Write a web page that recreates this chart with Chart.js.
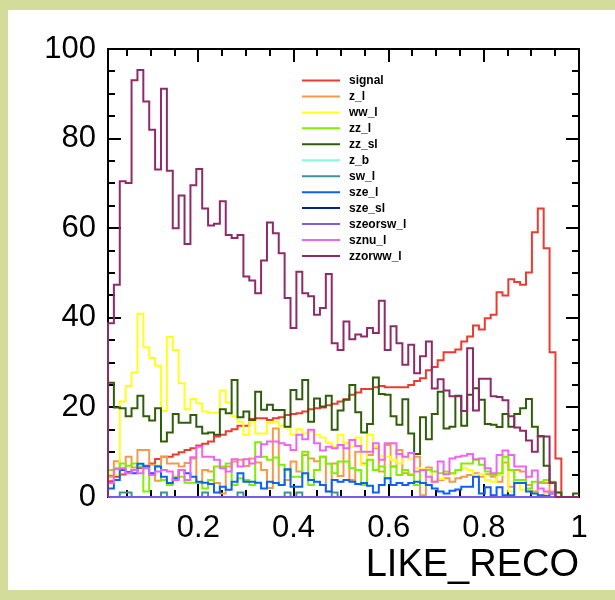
<!DOCTYPE html>
<html>
<head>
<meta charset="utf-8">
<script src="https://cdn.jsdelivr.net/npm/chart.js@4.4.1/dist/chart.umd.min.js"></script>
<style>
  html, body { margin: 0; padding: 0; background: #d3dc9a; overflow: hidden; }
  #pad { position: absolute; left: 8px; top: 10px; width: 607px; height: 580px; background: #fff; }
  #chart { position: absolute; left: 0; top: 0; }
</style>
</head>
<body>
<div id="pad"></div>
<canvas id="chart" width="615" height="600"></canvas>
<script>
// histogram binning of LIKE_RECO
const X_MIN = 0.01;
const X_MAX = 1.0;
const N_BINS = 80;
const xTickLabels = [0.2, 0.4, 0.6, 0.8, 1];
const yTickLabels = [0, 20, 40, 60, 80, 100];
const xTitle = "LIKE_RECO";

const seriesNames = ["signal", "z_l", "ww_l", "zz_l", "zz_sl", "z_b", "sw_l", "sze_l", "sze_sl", "szeorsw_l", "sznu_l", "zzorww_l"];

const signal = [
  3.5, 4.5, 5.0, 5.5, 6.0, 6.5, 7.0, 7.5, 8.5, 9.0,
  9.0, 9.5, 10.0, 10.5, 10.9, 11.5, 11.9, 12.4, 13.5, 13.9,
  14.7, 15.1, 15.9, 15.9, 17.4, 17.6, 17.6, 17.2, 17.6, 17.8,
  18.3, 18.5, 18.7, 19.1, 19.6, 19.8, 20.0, 20.5, 20.8, 21.3,
  21.8, 22.8, 23.3, 24.1, 24.1, 24.5, 24.8, 24.5, 24.5, 24.5,
  24.5, 25.0, 25.9, 26.5, 28.3, 29.0, 30.5, 32.3, 32.3, 32.9,
  34.7, 35.8, 38.3, 37.4, 39.9, 40.7, 45.7, 45.0, 48.6, 48.0,
  47.4, 50.1, 59.1, 64.4, 55.5, 32.3, 8.6, 0, 0, 0
];
const z_l = [
  4.5, 8.0, 6.2, 9.0, 6.6, 10.5, 10.5, 7.2, 3.6, 9.0,
  7.5, 7.5, 6.8, 7.6, 8.6, 3.2, 6.0, 5.7, 3.1, 0.8,
  6.8, 7.9, 8.3, 6.9, 8.6, 7.7, 6.0, 2.0, 15.3, 2.7,
  3.8, 7.9, 5.7, 9.4, 8.6, 8.0, 9.0, 1.2, 7.5, 4.7,
  12.0, 3.8, 10.1, 7.5, 9.4, 10.9, 5.7, 11.6, 6.8, 10.5,
  5.3, 4.9, 9.0, 0.4, 6.6, 3.4, 3.8, 4.2, 3.4, 4.2,
  4.5, 4.9, 5.3, 4.5, 5.1, 4.5, 3.4, 7.7, 2.3, 6.0,
  5.7, 2.7, 1.2, 3.1, 3.1, 1.2, 0, 0, 0, 0
];
const ww_l = [
  5.0, 5.0, 21.3, 24.8, 27.8, 40.9, 33.4, 31.0, 29.3, 19.2,
  35.7, 32.8, 25.4, 19.6, 21.9, 20.9, 19.1, 18.8, 18.8, 23.8,
  21.1, 18.0, 16.8, 13.9, 16.8, 14.2, 14.2, 16.5, 16.8, 15.9,
  15.5, 13.9, 15.1, 14.2, 14.6, 13.9, 13.3, 12.1, 11.2, 13.9,
  12.0, 11.2, 13.3, 7.2, 13.9, 11.2, 9.2, 9.0, 8.3, 7.5,
  9.0, 8.4, 6.4, 6.2, 6.0, 3.4, 4.0, 5.3, 5.2, 6.0,
  6.4, 6.0, 4.5, 5.1, 3.8, 3.4, 4.9, 9.0, 1.2, 3.2,
  1.6, 1.6, 0.8, 0.4, 0.8, 0, 0, 0, 0, 0
];
const zz_l = [
  6.0, 6.4, 7.5, 7.0, 7.5, 6.8, 1.2, 4.9, 7.0, 3.8,
  2.7, 4.5, 4.5, 3.2, 3.2, 3.2, 1.9, 3.8, 6.8, 6.8,
  7.5, 2.7, 4.2, 3.8, 2.7, 12.2, 9.0, 8.3, 8.8, 7.2,
  6.0, 4.5, 4.5, 10.1, 2.7, 6.0, 9.0, 7.4, 5.3, 7.9,
  7.9, 6.4, 6.0, 2.7, 8.3, 6.0, 6.8, 4.2, 6.8, 4.9,
  6.0, 5.0, 2.7, 6.0, 6.0, 5.7, 5.3, 5.7, 5.3, 6.0,
  7.5, 7.5, 8.3, 7.2, 5.7, 4.9, 5.3, 9.0, 6.0, 3.8,
  3.8, 1.9, 3.4, 3.4, 3.8, 3.4, 1.0, 0, 0, 0
];
const zz_sl = [
  25.5, 20.0, 19.8, 18.0, 19.8, 22.6, 18.0, 17.1, 19.8, 12.4,
  14.4, 18.5, 16.6, 16.6, 18.3, 15.7, 14.2, 14.4, 13.9, 19.6,
  18.7, 26.1, 17.8, 19.1, 17.2, 23.5, 19.5, 20.6, 19.4, 19.4,
  15.7, 23.9, 21.8, 26.1, 16.8, 22.0, 20.2, 22.6, 15.0, 19.3,
  21.7, 25.0, 18.9, 14.4, 16.3, 26.7, 23.0, 22.8, 18.0, 16.1,
  21.8, 14.2, 9.6, 17.8, 12.9, 18.5, 23.5, 15.3, 15.7, 22.6,
  15.9, 22.8, 24.3, 21.7, 16.3, 16.1, 15.6, 18.5, 15.7, 18.5,
  19.8, 21.9, 15.7, 13.6, 7.0, 3.2, 1.0, 0, 0, 0.8
];
const z_b = [
  0, 0, 0, 0, 0, 0, 0, 0, 0, 0, 0, 0, 0, 0, 0, 0, 0, 0, 0, 0,
  0, 0, 0, 0, 0, 0, 0, 0, 0, 0, 0, 0, 0, 0, 0, 0, 0, 0, 0, 0,
  0, 0, 0, 0, 0, 0, 0, 0, 0, 0, 0, 0, 0, 0, 0, 0, 0, 0, 0, 0,
  0, 0, 0, 0, 0, 0, 0, 0, 0, 0, 0, 0, 0, 0, 0, 0, 0, 0, 0, 0
];
const sw_l = [
  0, 0, 1, 1, 0, 0, 0, 0, 0, 1, 0, 0, 0, 0, 0, 0, 1, 0, 0, 0,
  0, 0, 1, 0, 0, 0, 0, 0, 0, 0, 1, 0, 1, 0, 0, 0, 0, 0, 1, 0,
  0, 0, 0, 0, 0, 0, 0, 0, 0, 0, 0, 0, 0, 0, 0, 0, 0, 0, 0, 0,
  0, 0, 0, 0, 0, 0, 0, 0, 0, 0, 0, 0, 0, 0, 0, 0, 0, 0, 0, 0
];
const sze_l = [
  1.9, 3.8, 6.0, 5.5, 5.3, 7.4, 6.8, 5.3, 6.8, 4.5,
  3.1, 4.2, 6.0, 5.3, 4.5, 3.4, 3.2, 2.9, 1.0, 2.3,
  1.6, 3.4, 5.3, 3.4, 3.4, 3.2, 1.9, 3.4, 3.1, 2.7,
  6.2, 2.3, 2.3, 5.3, 3.8, 3.4, 2.7, 1.2, 3.8, 3.4,
  3.8, 3.4, 2.9, 3.1, 2.5, 1.0, 2.7, 4.2, 2.7, 3.1,
  2.7, 3.1, 3.4, 3.1, 2.7, 1.9, 1.2, 0.8, 1.4, 1.7,
  2.3, 2.3, 4.5, 0.8, 2.2, 0.4, 2.2, 0.4, 0.4, 3.1,
  3.1, 1.2, 0.8, 0.4, 0.2, 0.8, 0, 0, 0, 0
];
const sze_sl = [
  0, 0, 0, 0, 0, 0, 0, 0, 0, 0, 0, 0, 0, 0, 0, 0, 0, 0, 0, 0,
  0, 0, 0, 0, 0, 0, 0, 0, 0, 0, 0, 0, 0, 0, 0, 0, 0, 0, 0, 0,
  0, 0, 0, 0, 0, 0, 0, 0, 0, 0, 0, 0, 0, 0, 0, 0, 0, 0, 0, 0,
  0, 0, 0, 0, 0, 0, 0, 0, 0, 0, 0, 0, 0, 0, 0, 0, 0, 0, 0, 0
];
const szeorsw_l = [
  0, 0, 0, 0, 0, 0, 0, 0, 0, 0, 0, 0, 0, 0, 0, 0, 0, 0, 0, 0,
  0, 0, 0, 0, 0, 0, 0, 0, 0, 0, 0, 0, 0, 0, 0, 0, 0, 0, 0, 0,
  0, 0, 0, 0, 0, 0, 0, 0, 0, 0, 0, 0, 0, 0, 0, 0, 0, 0, 0, 0,
  0, 0, 0, 0, 0, 0, 0, 0, 0, 0, 0, 0, 0, 0, 0, 0, 0, 0, 0, 0
];
const sznu_l = [
  3.1, 6.2, 6.4, 5.3, 6.0, 5.3, 6.4, 4.9, 5.7, 6.0,
  5.7, 3.8, 6.0, 3.8, 8.9, 11.2, 9.0, 9.0, 8.3, 6.4,
  5.7, 8.4, 6.8, 8.4, 7.5, 9.0, 11.8, 12.4, 12.4, 12.0,
  11.6, 10.5, 13.9, 12.9, 15.0, 12.0, 10.4, 11.2, 10.9, 11.6,
  10.9, 12.7, 11.4, 10.1, 10.1, 12.0, 8.3, 12.0, 12.0, 9.6,
  9.0, 9.8, 5.7, 6.0, 4.5, 3.4, 7.9, 5.1, 8.6, 9.0,
  9.2, 9.6, 8.4, 8.6, 6.4, 5.3, 9.4, 10.4, 9.4, 6.8,
  6.8, 4.5, 5.9, 1.9, 1.2, 0.8, 0, 0, 0, 0
];
const zzorww_l = [
  38.8, 47.4, 70.5, 70.1, 93.0, 95.3, 88.3, 82.0, 73.1, 91.1,
  72.8, 60.0, 67.3, 56.5, 69.6, 73.2, 64.4, 60.6, 61.0, 66.0,
  58.5, 57.8, 58.5, 49.2, 48.3, 45.5, 52.8, 61.3, 58.9, 54.4,
  44.4, 37.7, 50.3, 45.5, 44.8, 40.7, 42.2, 49.8, 34.3, 32.8,
  39.2, 35.2, 36.3, 35.8, 37.7, 36.6, 43.8, 32.8, 38.1, 34.3,
  29.5, 34.0, 27.6, 31.4, 34.7, 24.2, 26.3, 23.8, 22.5, 22.5,
  19.2, 33.2, 19.3, 26.4, 26.4, 22.5, 22.3, 21.6, 18.0, 15.5,
  14.8, 12.6, 10.1, 13.5, 13.5, 3.2, 0, 0, 0, 0
];

const seriesValues = [signal, z_l, ww_l, zz_l, zz_sl, z_b, sw_l, sze_l, sze_sl, szeorsw_l, sznu_l, zzorww_l];
const seriesColors = [
  "#ee3a30", "#f59a4c", "#ffff1e", "#80f000", "#2f5e0a", "#7fffd4",
  "#3f9393", "#0a62f7", "#00238c", "#7b5cf2", "#f064f4", "#8e2b68",
];

const FONT = '"Liberation Sans", Arial, Helvetica, sans-serif';

// bin edges along the x axis
const binEdges = Array.from({ length: N_BINS + 1 }, (_, i) => X_MIN + (i * (X_MAX - X_MIN)) / N_BINS);

/** outline of a histogram: rises from 0 at the first edge, one step per bin */
function histPoints(values) {
  const pts = [{ x: binEdges[0], y: 0 }];
  values.forEach((v, i) => pts.push({ x: binEdges[i], y: v }));
  pts.push({ x: binEdges[N_BINS], y: values[N_BINS - 1] });
  return pts;
}

// frame + inward ticks on all four sides, under the histograms (like ROOT)
const frameTicks = {
  id: "frameTicks",
  beforeDatasetsDraw(chart) {
    const { ctx, chartArea: a, scales } = chart;
    const isMajor = (v, step) => Math.abs(v / step - Math.round(v / step)) < 1e-6;
    ctx.save();
    ctx.strokeStyle = "#000";
    ctx.lineWidth = 2;
    ctx.strokeRect(a.left, a.top, a.right - a.left, a.bottom - a.top);
    ctx.beginPath();
    for (let k = 1; k <= 20; k++) {
      const v = k * 0.05;
      const px = Math.round(scales.x.getPixelForValue(v));
      const len = isMajor(v, 0.2) ? 13 : 7;
      ctx.moveTo(px, a.bottom);
      ctx.lineTo(px, a.bottom - len);
      ctx.moveTo(px, a.top);
      ctx.lineTo(px, a.top + len);
    }
    for (let k = 1; k < 20; k++) {
      const v = k * 5;
      const py = Math.round(scales.y.getPixelForValue(v));
      const len = isMajor(v, 20) ? 13 : 7;
      ctx.moveTo(a.left, py);
      ctx.lineTo(a.left + len, py);
      ctx.moveTo(a.right, py);
      ctx.lineTo(a.right - len, py);
    }
    ctx.stroke();
    ctx.restore();
  },
};

// borderless legend inside the pad
const rootLegend = {
  id: "rootLegend",
  afterDatasetsDraw(chart) {
    const { ctx, chartArea: a } = chart;
    ctx.save();
    ctx.font = `bold 12px ${FONT}`;
    ctx.textBaseline = "middle";
    ctx.textAlign = "left";
    seriesNames.forEach((name, i) => {
      const y = a.top + 31.5 + i * 15.95;
      ctx.strokeStyle = seriesColors[i];
      ctx.lineWidth = 2;
      ctx.beginPath();
      ctx.moveTo(a.left + 194, y);
      ctx.lineTo(a.left + 232, y);
      ctx.stroke();
      ctx.fillStyle = "#000";
      ctx.fillText(name, a.left + 241, y + 0.5);
    });
    ctx.restore();
  },
};

new Chart(document.getElementById("chart"), {
  type: "line",
  data: {
    datasets: seriesNames.map((name, i) => ({
      label: name,
      data: histPoints(seriesValues[i]),
      borderColor: seriesColors[i],
      borderWidth: 2,
      stepped: true,
      fill: false,
      pointRadius: 0,
      clip: 4,
      order: seriesNames.length - i,
    })),
  },
  options: {
    responsive: false,
    animation: false,
    events: [],
    layout: { padding: { top: 49, right: 36, left: 0, bottom: 0 } },
    plugins: { legend: { display: false }, tooltip: { enabled: false } },
    scales: {
      x: {
        type: "linear",
        min: X_MIN,
        max: X_MAX,
        grid: { display: false },
        border: { display: false },
        afterBuildTicks: (s) => {
          s.ticks = xTickLabels.map((v) => ({ value: v }));
        },
        afterFit: (s) => {
          s.height = 103;
        },
        ticks: {
          color: "#000",
          font: { family: FONT, size: 31 },
          padding: 5,
          maxRotation: 0,
          autoSkip: false,
          callback: (v) => String(v),
        },
        title: {
          display: true,
          text: xTitle,
          align: "end",
          color: "#000",
          font: { family: FONT, size: 38 },
          padding: { top: 0, bottom: 12 },
        },
      },
      y: {
        min: 0,
        max: 100,
        grid: { display: false },
        border: { display: false },
        afterBuildTicks: (s) => {
          s.ticks = yTickLabels.map((v) => ({ value: v }));
        },
        afterFit: (s) => {
          s.width = 108;
        },
        ticks: {
          color: "#000",
          font: { family: FONT, size: 31 },
          padding: 4,
          callback: (v) => String(v),
        },
      },
    },
  },
  plugins: [frameTicks, rootLegend],
});
</script>
</body>
</html>
